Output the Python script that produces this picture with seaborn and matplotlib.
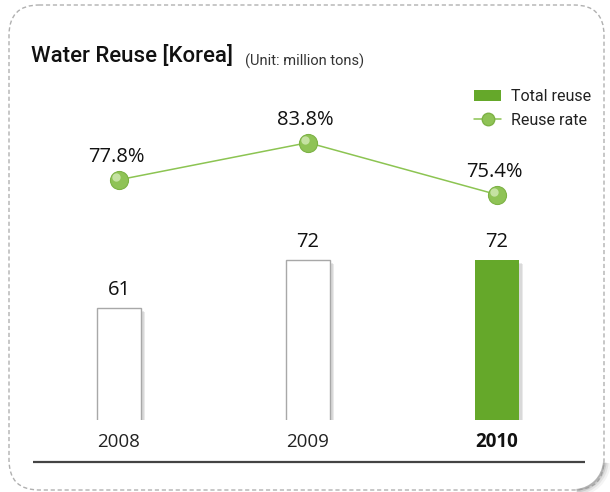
import matplotlib
matplotlib.use("Agg")
import matplotlib.pyplot as plt
import matplotlib.patheffects as pe
from matplotlib.patches import FancyBboxPatch, Patch, Arc
from matplotlib.lines import Line2D
from matplotlib.transforms import ScaledTranslation, blended_transform_factory
import seaborn as sns
import pandas as pd

years = ["2008", "2009", "2010"]
total_reuse = [61, 72, 72]          # million tons
reuse_rate = [77.8, 83.8, 75.4]     # percent

GREEN = "#65a82a"
LINE_GREEN = "#8cc452"
BAR_EDGE = "#a8a8a8"

sns.set_theme(style="white")
plt.rcParams["font.family"] = ["Open Sans", "Noto Sans", "DejaVu Sans"]
NARROW = ["Roboto", "Noto Sans", "DejaVu Sans"]

W, H = 610, 492
fig = plt.figure(figsize=(W / 100, H / 100), dpi=100)

# --- rounded dashed card in pixel coordinates --------------------------------
bg = fig.add_axes([0, 0, 1, 1], zorder=0)
bg.set_xlim(0, W)
bg.set_ylim(H, 0)
bg.axis("off")
card = FancyBboxPatch((9, 5), 595, 485, boxstyle="round,pad=0,rounding_size=30",
                      facecolor="white", edgecolor="#b0b0b0", linewidth=1.0,
                      linestyle=(0, (3, 2)))
bg.add_patch(card)
# soft curl shadow on the bottom-right corner
for k, (lw, a) in enumerate([(6, 0.10), (4, 0.18), (2.5, 0.3), (1.4, 0.55)]):
    bg.add_patch(Arc((574, 460), 60 + 2 * (3 - k), 60 + 2 * (3 - k), theta1=5, theta2=85,
                     color="#9a9a9a", lw=lw, alpha=a))
bg.plot([33, 585], [462, 462], color="#444444", lw=1.6, solid_capstyle="butt")

# --- bars ---------------------------------------------------------------------
ax = fig.add_axes([24.5 / W, (H - 420) / H, 567 / W, 340 / H], zorder=2)
ax.patch.set_alpha(0)
df = pd.DataFrame({"year": years, "total": total_reuse, "rate": reuse_rate})
sns.barplot(data=df, x="year", y="total", hue="year", legend=False,
            palette=["white", "white", GREEN], width=0.233, ax=ax,
            edgecolor=BAR_EDGE, linewidth=1.0, saturation=1)
for i, bar in enumerate(ax.patches):
    if i == 2:
        bar.set_edgecolor("none")
    bar.set_path_effects([pe.SimplePatchShadow(offset=(3, -3), shadow_rgbFace="#bbbbbb", alpha=0.3),
                          pe.SimplePatchShadow(offset=(2, -2), shadow_rgbFace="#aaaaaa", alpha=0.25),
                          pe.Normal()])
ax.set_xlim(-0.5, 2.5)
ax.set_ylim(35.33, 113.25)
for c in ax.containers:
    ax.bar_label(c, padding=6, fontsize=14.5, color="#111111")
ax.set_xlabel("")
ax.set_ylabel("")
ax.set_yticks([])
ax.set_xticks([])
for s in ax.spines.values():
    s.set_visible(False)

# year labels under the bars, latest year in bold
xlab = blended_transform_factory(ax.transData, ax.transAxes)
for i, yr in enumerate(years):
    last = i == len(years) - 1
    ax.text(i, -0.066, yr, transform=xlab, ha="center", va="center", fontsize=13.5,
            color="#111111" if last else "#222222",
            fontweight="bold" if last else "normal")

# --- reuse rate line on its own scale -----------------------------------------
ax2 = ax.twinx()
ax2.set_zorder(3)
ax2.patch.set_alpha(0)
sns.lineplot(data=df, x="year", y="rate", ax=ax2, color=LINE_GREEN, lw=1.1,
             marker="o", markersize=13, markerfacecolor="#8fc356",
             markeredgecolor="#7db245", markeredgewidth=0.8)
hl = ax2.transData + ScaledTranslation(-2 / 72, 2 / 72, fig.dpi_scale_trans)
ax2.plot(df["year"], df["rate"], linestyle="none", marker="o", markersize=6,
         markerfacecolor="#cfe8b0", markeredgecolor="none", alpha=0.85, transform=hl)
ax2.set_ylim(38.96, 93.93)
ax2.set_yticks([])
ax2.set_xticks([])
ax2.set_ylabel("")
ax2.set_xlabel("")
for s in ax2.spines.values():
    s.set_visible(False)
for i, v in enumerate(reuse_rate):
    ax2.annotate(f"{v}%", (i, v), xytext=(-2, 9), textcoords="offset points",
                 ha="center", va="bottom", fontsize=14.5, color="#111111")

# --- titles --------------------------------------------------------------------
fig.text(31 / W, 1 - 56 / H, "Water Reuse [Korea]", fontsize=16, va="center",
         ha="left", color="#111111", family=NARROW, fontweight="medium")
fig.text(245 / W, 1 - 61 / H, "(Unit: million tons)", fontsize=10.5, va="center",
         ha="left", color="#333333", family=NARROW)

# --- legend ----------------------------------------------------------------------
handles = [Patch(facecolor=GREEN, edgecolor="none"),
           Line2D([0], [0], color=LINE_GREEN, lw=1.1, marker="o", markersize=9,
                  markerfacecolor="#8fc356", markeredgecolor="#7db245")]
fig.legend(handles, ["Total reuse", "Reuse rate"], loc="upper left",
           bbox_to_anchor=(474 / W, 1 - 89 / H), frameon=False,
           prop={"family": NARROW, "size": 11.5},
           handlelength=1.7, handletextpad=0.6, labelspacing=0.55,
           labelcolor="#222222", borderaxespad=0, borderpad=0)

fig.savefig("out.png", dpi=100)
